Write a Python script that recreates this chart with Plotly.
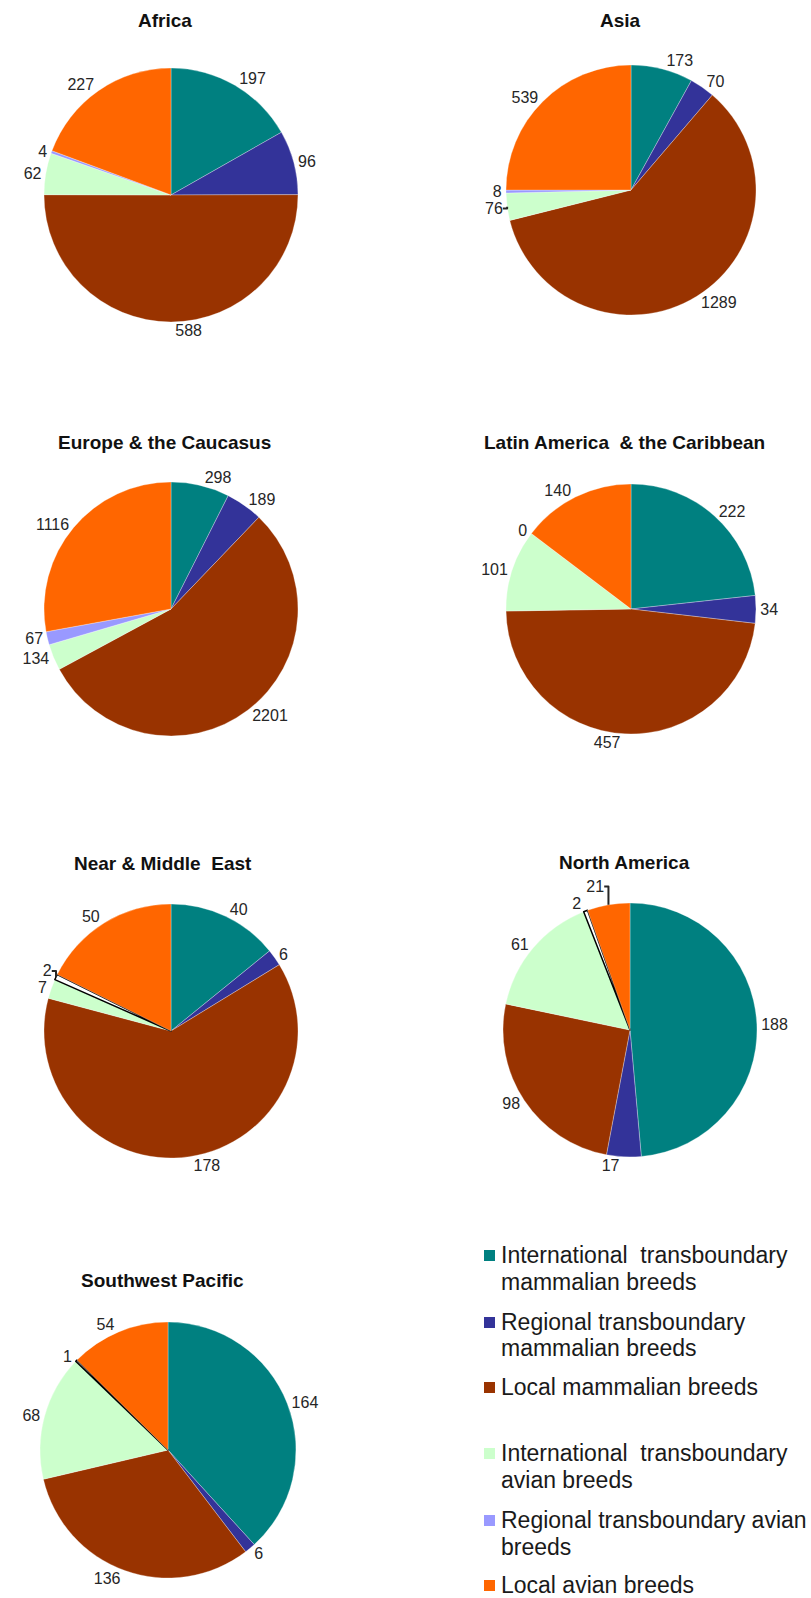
import plotly.graph_objects as go

categories = [
    "International transboundary mammalian breeds",
    "Regional transboundary mammalian breeds",
    "Local mammalian breeds",
    "International transboundary avian breeds",
    "Regional transboundary avian breeds",
    "Local avian breeds",
]
colors = ["#008080", "#333399", "#993300", "#CCFFCC", "#9999FF", "#FF6600"]

regions = ["Africa", "Asia", "Europe & the Caucasus", "Latin America  & the Caribbean",
           "Near & Middle  East", "North America", "Southwest Pacific"]
africa = [197, 96, 588, 62, 4, 227]
asia = [173, 70, 1289, 76, 8, 539]
europe = [298, 189, 2201, 134, 67, 1116]
latin_america = [222, 34, 457, 101, 0, 140]
near_middle_east = [40, 6, 178, 7, 2, 50]
north_america = [188, 17, 98, 61, 2, 21]
southwest_pacific = [164, 6, 136, 68, 1, 54]
series = [africa, asia, europe, latin_america, near_middle_east, north_america, southwest_pacific]
outlined = [False, False, False, False, True, True, True]

legend_lines = [
    ["International  transboundary", "mammalian breeds"],
    ["Regional transboundary", "mammalian breeds"],
    ["Local mammalian breeds"],
    ["International  transboundary", "avian breeds"],
    ["Regional transboundary avian", "breeds"],
    ["Local avian breeds"],
]

W, H = 811, 1598
# layout: pie center x, center y, radius, title x, title y (px)
placement = [(171, 195, 127, 165, 21), (631, 190, 125, 620, 21),
             (171, 609, 127, 164, 442), (631, 609, 125, 624, 442),
             (171, 1031, 127, 163, 863), (630, 1030, 127, 624, 862),
             (168, 1450, 128, 162, 1280)]

FONT = "Arial, Liberation Sans, sans-serif"
fig = go.Figure()
annotations = []
for name, vals, (cx, cy, r, tx, ty), ol in zip(regions, series, placement, outlined):
    fills = list(colors)
    lcol = ["white"] * 6
    lw = [0.3] * 6
    if ol:
        fills[4] = "white"
        lcol[4] = "black"
        lw[4] = 1.5
    fig.add_trace(go.Pie(
        labels=categories, values=vals, sort=False, direction="clockwise", rotation=0,
        marker=dict(colors=fills, line=dict(color=lcol, width=lw)),
        textinfo="value", textposition="outside",
        outsidetextfont=dict(family=FONT, size=16, color="#262626"),
        domain=dict(x=[(cx - r) / W, (cx + r) / W], y=[1 - (cy + r) / H, 1 - (cy - r) / H]),
        showlegend=False, hoverinfo="label+value", name=name,
    ))
    annotations.append(dict(text="<b>%s</b>" % name, x=tx / W, y=1 - ty / H, xref="paper", yref="paper",
                            showarrow=False, xanchor="center", yanchor="middle",
                            font=dict(family=FONT, size=19, color="#111")))

# manual legend
line_y = [[1255, 1282], [1322, 1348], [1387], [1453, 1480], [1520, 1547], [1585]]
shapes = []
for col, lines, ys in zip(colors, legend_lines, line_y):
    shapes.append(dict(type="rect", xref="paper", yref="paper",
                       x0=484 / W, x1=495 / W, y0=1 - (ys[0] + 6) / H, y1=1 - (ys[0] - 5) / H,
                       fillcolor=col, line=dict(width=0)))
    for t, y in zip(lines, ys):
        annotations.append(dict(text=t, x=499 / W, y=1 - y / H, xref="paper", yref="paper",
                                showarrow=False, xanchor="left", yanchor="middle",
                                font=dict(family=FONT, size=23, color="#1a1a1a")))

fig.update_layout(width=W, height=H, margin=dict(l=0, r=0, t=0, b=0),
                  paper_bgcolor="white", plot_bgcolor="white",
                  annotations=annotations, shapes=shapes)
fig.write_html("out.html")
